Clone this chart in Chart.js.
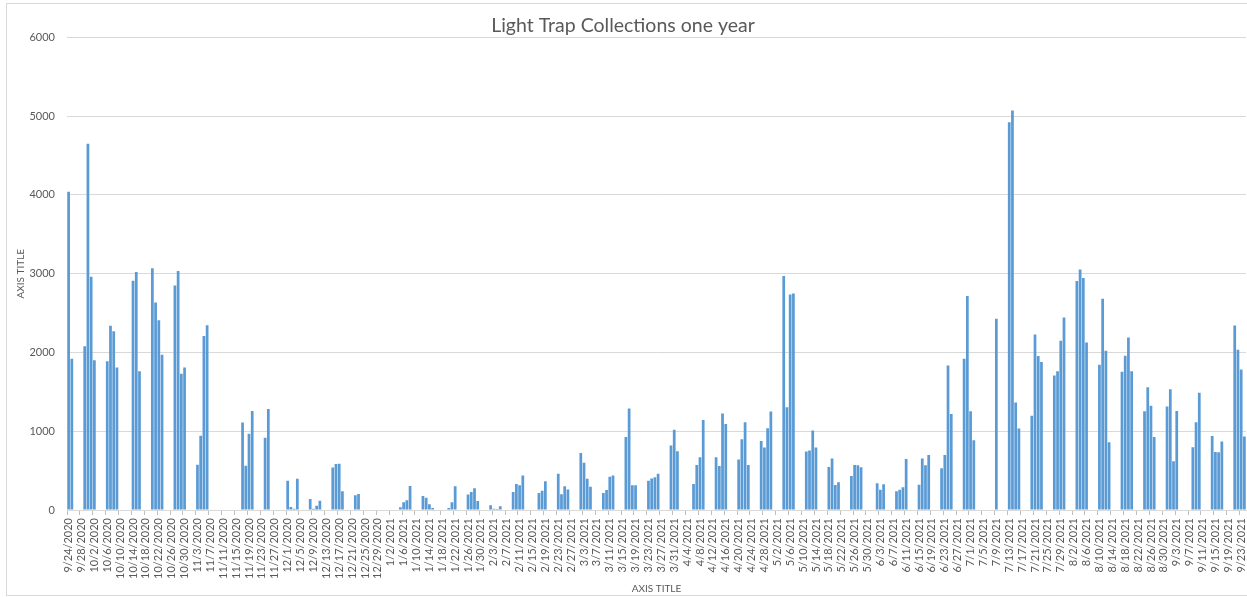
<!DOCTYPE html>
<html>
<head>
<meta charset="utf-8">
<title>Light Trap Collections one year</title>
<script src="https://cdn.jsdelivr.net/npm/chart.js@4.4.0/dist/chart.umd.min.js"></script>
<style>
  html, body { margin: 0; padding: 0; background: #fff; }
  #wrap { width: 1247px; height: 597px; }
</style>
</head>
<body>
<div id="wrap"><canvas id="trapChart" width="1247" height="597"></canvas></div>
<script>
// one bar per day, 9/24/2020 .. 9/24/2021
var firstDay = [2020, 8, 24];   // year, month (0 based), day
var dayCount = 366;
var labelEvery = 4;

var trapCounts = [
    4040, 1920, 0, 0, 0, 2080, 4650, 2960, 1900, 0,
    0, 0, 1890, 2340, 2270, 1810, 0, 0, 0, 0,
    2910, 3020, 1760, 0, 0, 0, 3070, 2635, 2410, 1970,
    0, 0, 0, 2850, 3035, 1730, 1810, 0, 0, 0,
    576, 943, 2210, 2345, 0, 0, 0, 0, 0, 0,
    0, 0, 0, 0, 1112, 562, 968, 1256, 0, 0,
    0, 918, 1281, 0, 0, 0, 0, 0, 372, 38,
    15, 397, 0, 0, 0, 140, 17, 55, 118, 0,
    0, 0, 541, 584, 588, 237, 0, 0, 0, 186,
    203, 0, 0, 0, 0, 0, 0, 0, 0, 0,
    0, 0, 0, 34, 98, 123, 306, 0, 0, 0,
    179, 157, 72, 26, 0, 0, 0, 0, 26, 98,
    302, 0, 0, 0, 196, 230, 277, 115, 0, 0,
    0, 60, 17, 13, 47, 0, 0, 0, 230, 330,
    313, 438, 0, 0, 0, 0, 217, 243, 366, 0,
    0, 0, 460, 200, 302, 260, 0, 0, 0, 723,
    600, 396, 294, 0, 0, 0, 217, 255, 421, 438,
    0, 0, 0, 928, 1289, 315, 315, 0, 0, 0,
    370, 400, 417, 460, 0, 0, 0, 820, 1020, 746,
    0, 0, 0, 0, 331, 572, 669, 1144, 0, 0,
    0, 669, 559, 1225, 1093, 0, 0, 0, 640, 898,
    1114, 572, 0, 0, 0, 877, 792, 1038, 1250, 0,
    0, 0, 2970, 1305, 2737, 2750, 0, 0, 0, 742,
    754, 1008, 792, 0, 0, 0, 545, 653, 318, 352,
    0, 0, 0, 432, 572, 568, 542, 0, 0, 0,
    0, 339, 258, 326, 0, 0, 0, 237, 258, 288,
    648, 0, 0, 0, 322, 653, 568, 699, 0, 0,
    0, 530, 699, 1835, 1220, 0, 0, 0, 1919, 2716,
    1254, 886, 0, 0, 0, 0, 0, 0, 2428, 0,
    0, 0, 4924, 5072, 1366, 1036, 0, 0, 0, 1197,
    2229, 1954, 1878, 0, 0, 0, 1709, 1760, 2149, 2445,
    0, 0, 0, 2906, 3054, 2944, 2128, 0, 0, 0,
    1844, 2682, 2022, 859, 0, 0, 0, 1755, 1958, 2191,
    1760, 0, 0, 0, 1254, 1559, 1322, 928, 0, 0,
    0, 1314, 1534, 619, 1258, 0, 0, 0, 0, 797,
    1114, 1487, 0, 0, 0, 941, 737, 733, 869, 0,
    0, 0, 2343, 2034, 1784, 932
];

var yMin = 0;
var yMax = 6000;
var yStep = 1000;

var dayLabels = [];
for (var i = 0; i < dayCount; i++) {
    var d = new Date(Date.UTC(firstDay[0], firstDay[1], firstDay[2] + i));
    dayLabels.push((d.getUTCMonth() + 1) + '/' + d.getUTCDate() + '/' + d.getUTCFullYear());
}

var textGrey = '#595959';
var lineGrey = '#d9d9d9';
var fontName = 'Lato, "Open Sans", sans-serif';

var chartFrame = {
    id: 'chartFrame',
    beforeDraw: function(chart) {
        var ctx = chart.ctx;
        ctx.save();
        ctx.fillStyle = '#ffffff';
        ctx.fillRect(0, 0, chart.width, chart.height);
        ctx.strokeStyle = lineGrey;
        ctx.lineWidth = 1;
        ctx.strokeRect(6.5, 3.5, chart.width + 10, chart.height - 5);
        ctx.restore();
    }
};

var trapChart = new Chart(document.getElementById('trapChart'), {
    type: 'bar',
    data: {
        labels: dayLabels,
        datasets: [{
            label: 'Light trap',
            data: trapCounts,
            backgroundColor: '#5b9bd5',
            borderWidth: 0,
            barPercentage: 0.85,
            categoryPercentage: 1
        }]
    },
    options: {
        responsive: false,
        animation: false,
        layout: { padding: { left: 0, right: 1, top: 0, bottom: 0 } },
        plugins: {
            legend: { display: false },
            tooltip: { enabled: false },
            title: {
                display: true,
                text: 'Light Trap Collections one year',
                color: textGrey,
                font: { family: fontName, size: 19.5, weight: 'normal' },
                padding: { top: 14, bottom: 0 }
            }
        },
        scales: {
            x: {
                afterFit: function(scale) {
                    scale.height = 87;
                    // rotated end labels should not shrink the plot sideways
                    scale.paddingLeft = 0;
                    scale.paddingRight = 0;
                },
                grid: {
                    drawOnChartArea: false,
                    drawTicks: true,
                    tickLength: 5,
                    color: function(c) { return c.index % labelEvery === 0 ? '#bfbfbf' : 'rgba(0,0,0,0)'; }
                },
                border: { display: true, color: lineGrey },
                ticks: {
                    autoSkip: false,
                    maxRotation: 90,
                    minRotation: 90,
                    padding: 3,
                    color: textGrey,
                    font: { family: fontName, size: 11 },
                    callback: function(value, index) {
                        return index % labelEvery === 0 ? this.getLabelForValue(value) : '';
                    }
                },
                title: {
                    display: true,
                    text: 'AXIS TITLE',
                    color: textGrey,
                    font: { family: fontName, size: 10 },
                    padding: { top: 0, bottom: 2 }
                }
            },
            y: {
                min: yMin,
                max: yMax,
                afterFit: function(scale) { scale.width = 67; },
                grid: { color: lineGrey, drawTicks: false },
                border: { display: false },
                ticks: {
                    stepSize: yStep,
                    padding: 12,
                    color: textGrey,
                    font: { family: fontName, size: 11 },
                    callback: function(value) { return String(value); }
                },
                title: {
                    display: true,
                    text: 'AXIS TITLE',
                    color: textGrey,
                    font: { family: fontName, size: 10 },
                    padding: { top: 15, bottom: 0 }
                }
            }
        }
    },
    plugins: [chartFrame]
});
</script>
</body>
</html>
